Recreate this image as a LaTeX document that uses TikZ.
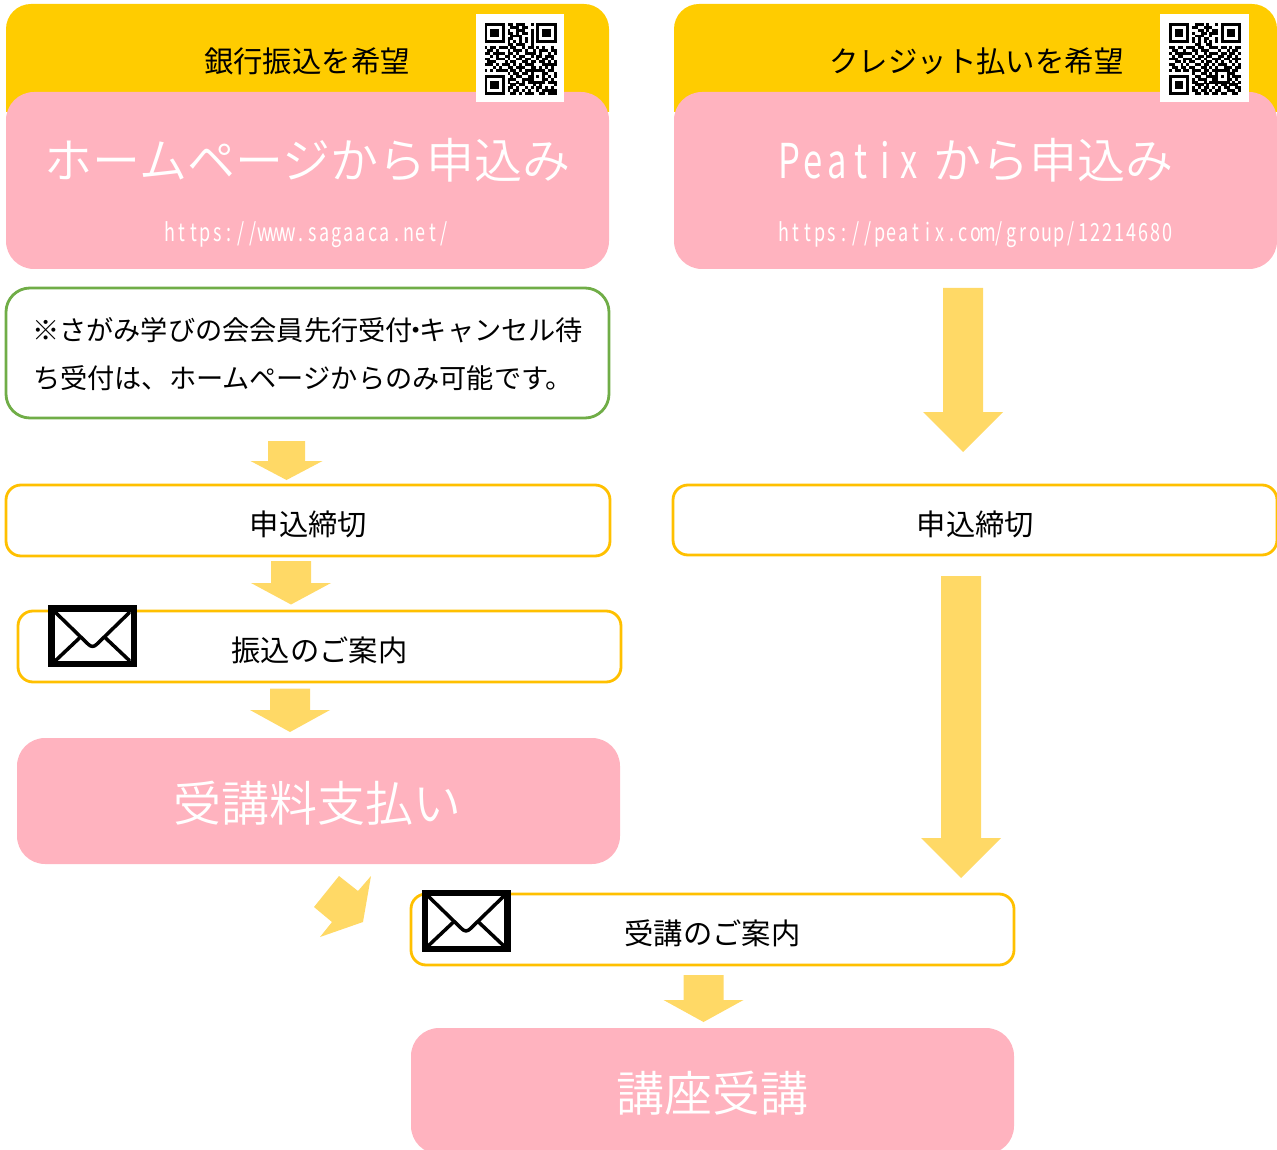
\documentclass[tikz,border=0pt]{standalone}
\usepackage{fontspec}
\setmainfont{Noto Sans CJK JP}
\newfontfamily\lightf{Noto Sans CJK JP DemiLight}
\newfontfamily\condf[FakeStretch=0.72]{Noto Sans CJK JP}
\definecolor{headyellow}{HTML}{FFCC00}
\definecolor{softpink}{HTML}{FFB3BF}
\definecolor{arrowyellow}{HTML}{FFD966}
\definecolor{lineyellow}{HTML}{FFC000}
\definecolor{linegreen}{HTML}{70AD47}
\newcommand\monotext[2]{\def\mw{#1}\monoscan#2\relax}
\def\monoscan#1{\ifx#1\relax\else\makebox[\mw][c]{#1}\expandafter\monoscan\fi}
\newcount\qrr \newcount\qrc
\def\qrscan#1{\ifx#1\relax\else\if#11\fill[black] (\qx+\the\qrc*\qm,\qy+\the\qrr*\qm) rectangle ++(\qm+.05,\qm+.05);\fi\advance\qrc by 1 \expandafter\qrscan\fi}
\def\qrrow#1{\qrc=0 \qrscan#1\relax\advance\qrr by 1 }
\newcommand\arrowdown[6]{\fill[arrowyellow] (#1-#2,#4) -- (#1+#2,#4) -- (#1+#2,#5) -- (#1+#3,#5) -- (#1,#6) -- (#1-#3,#5) -- (#1-#2,#5) -- (#1-#2,#4) -- cycle;}
\newcommand\envelope[2]{\begin{scope}[shift={(#1,#2)}]
\fill[black] (0,0) rectangle (89,62);
\fill[white] (6.5,6.5) rectangle (82.5,56);
\begin{scope}
\clip (6.5,6.5) rectangle (82.5,56);
\draw[black,line width=3.5pt,line join=round] (5,5) -- (40.5,39.5) .. controls (43,42) and (46,42) .. (48.5,39.5) -- (84,5);
\draw[black,line width=3.5pt] (5,58) -- (32,32.5) (84,58) -- (57,32.5);
\end{scope}
\end{scope}}
\newcommand\boxat[6]{\node[#1,minimum width=#5-#3,minimum height=#6-#4] (#2) at ({(#3+#5)/2},{(#4+#6)/2}) {};}
\tikzset{
  basebox/.style={shape=rectangle,inner sep=0pt,outer sep=0pt},
  pinkbox/.style={basebox,fill=softpink,rounded corners=28pt},
  linebox/.style={basebox,draw=lineyellow,fill=white,line width=2.8pt,rounded corners=15pt},
  notebox/.style={basebox,draw=linegreen,fill=white,line width=2.8pt,rounded corners=24pt},
  cjk/.style={inner sep=0pt,outer sep=0pt,font=\fontsize{#1}{#1}\selectfont,text height=.88*#1 pt,text depth=.12*#1 pt},
  bigwhite/.style={inner sep=0pt,outer sep=0pt,text=white,font=\fontsize{48}{48}\lightf,text height=42.2pt,text depth=5.8pt},
  urlwhite/.style={inner sep=0pt,outer sep=0pt,text=white,font=\fontsize{25}{25}\condf,text height=22pt,text depth=3pt},
}
\begin{document}
\begin{tikzpicture}[x=1pt,y=-1pt]
\useasboundingbox (0,0) rectangle (1277,1150);
\clip (0,0) rectangle (1277,1150);
% header bands
\fill[headyellow] (6,112) [rounded corners=25pt] -- (6,4) -- (609,4) [sharp corners] -- (609,112) -- cycle;
\fill[headyellow] (674,112) [rounded corners=25pt] -- (674,4) -- (1277,4) [sharp corners] -- (1277,112) -- cycle;
\boxat{pinkbox}{homebox}{6}{92}{609}{269}
\boxat{pinkbox}{peatixbox}{674}{92}{1277}{269}
% QR codes
\fill[white] (476,14) rectangle (564,102);
\def\qx{484.5}\def\qy{23}\def\qm{2.88}\qrr=0
\qrrow{1111111011011100101111111}
\qrrow{1000001001110110001000001}
\qrrow{1011101010011100101011101}
\qrrow{1011101011010110101011101}
\qrrow{1011101001111000101011101}
\qrrow{1000001011001010101000001}
\qrrow{1111111010101010101111111}
\qrrow{0000000011011100100000000}
\qrrow{1011011101100101101010010}
\qrrow{0110100010111010010111011}
\qrrow{1101111011010011110100101}
\qrrow{0010100110101100101101110}
\qrrow{1100111010011011001011010}
\qrrow{0111000101100110110110101}
\qrrow{1110101110101011100011111}
\qrrow{0001010011011100110101010}
\qrrow{1010111101101011111110110}
\qrrow{0000000010110110100011001}
\qrrow{1111111001011001101010101}
\qrrow{1000001011100111100011010}
\qrrow{1011101010010101111110111}
\qrrow{1011101001101100010100001}
\qrrow{1011101011010010101101010}
\qrrow{1000001010110101001011111}
\qrrow{1111111001101011100110111}
\fill[white] (1160,14) rectangle (1249,102);
\def\qx{1169}\def\qy{23}\def\qm{2.88}\qrr=0
\qrrow{1111111001110100101111111}
\qrrow{1000001011001110001000001}
\qrrow{1011101000110101101011101}
\qrrow{1011101010011011101011101}
\qrrow{1011101001110010001011101}
\qrrow{1000001010101100101000001}
\qrrow{1111111010101010101111111}
\qrrow{0000000001100110000000000}
\qrrow{1101101110110011101101011}
\qrrow{0110010011011100010010110}
\qrrow{1011111101001011101101101}
\qrrow{0101100010110110011011010}
\qrrow{1110011101101001110110111}
\qrrow{0011010110010110101001010}
\qrrow{1100101001101101011100101}
\qrrow{0110110110011010100111011}
\qrrow{1011011011101101111110110}
\qrrow{0000000010011010100011100}
\qrrow{1111111001100111101010111}
\qrrow{1000001010111001100011010}
\qrrow{1011101011001011111110101}
\qrrow{1011101001110100101101110}
\qrrow{1011101010101101010110011}
\qrrow{1000001011011010110011101}
\qrrow{1111111001101101101100110}
% header text
\node[cjk=29.4] (bankhead) at (307,61) {銀行振込を希望};
\node[cjk=29.4] (credithead) at (976.5,61) {クレジット払いを希望};
\node[bigwhite] (hometitle) at (307.5,160) {ホームページから申込み};
\node[urlwhite] (homeurl) at (307,232) {\monotext{11.95pt}{https://www.sagaaca.net/}};
\node[bigwhite] (peatixtitle) at (975.5,160) {\condf\fontsize{48}{48}\selectfont\monotext{24pt}{Peatix}\hspace{12pt}\lightf\fontsize{48}{48}\selectfont から申込み};
\node[urlwhite] (peatixurl) at (975.5,232) {\monotext{11.97pt}{https://peatix.com/group/12214680}};
% note
\boxat{notebox}{note}{6}{288}{609}{418}
\node[cjk=27.2,anchor=west] (noteone) at (32,330) {※さがみ学びの会会員先行受付\makebox[7pt][c]{・}キャンセル待};
\node[cjk=27.2,anchor=west] (notetwo) at (33,378) {ち受付は、ホームページからのみ可能です。};
% left flow
\boxat{linebox}{deadleft}{6}{485}{610}{556}
\node[cjk=29.3] (deadlefttext) at (308.5,524) {申込締切};
\boxat{linebox}{guideleft}{18}{611}{621}{682}
\node[cjk=29.3] (guidelefttext) at (319.5,650) {振込のご案内};
\boxat{pinkbox}{payment}{17}{738}{620}{864}
\node[bigwhite] (paymenttext) at (317.5,803) {受講料支払い};
% right flow
\boxat{linebox}{deadright}{673}{485}{1277}{555}
\node[cjk=29.3] (deadrighttext) at (975.5,524) {申込締切};
% bottom
\boxat{linebox}{guidebottom}{411}{894}{1014}{965}
\node[cjk=29.3] (guidebottomtext) at (712.5,933) {受講のご案内};
\boxat{pinkbox}{course}{411}{1028}{1014}{1154}
\node[bigwhite] (coursetext) at (712.5,1093) {講座受講};
% envelopes
\envelope{48}{605}
\envelope{421.5}{889.5}
% arrows
\arrowdown{286.5}{18.5}{36}{441}{461}{480}
\arrowdown{291}{20}{40}{561}{583}{604.5}
\arrowdown{290}{20}{40}{688.5}{710}{732}
\arrowdown{963}{20}{40}{288}{412}{452}
\arrowdown{961}{20}{40}{576}{838}{878}
\arrowdown{703.5}{20}{40}{975}{1000}{1022}
\fill[arrowyellow] (339,876) -- (358,891) -- (371,876) -- (363,922) -- (320,937) -- (332,922) -- (314,907) -- cycle;
\end{tikzpicture}
\end{document}
